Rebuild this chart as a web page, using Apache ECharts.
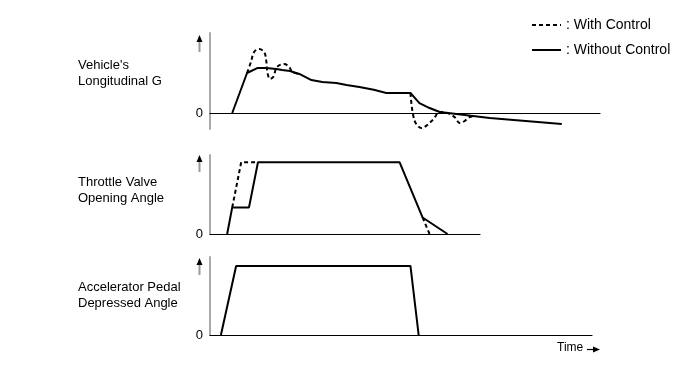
<!DOCTYPE html>
<html>
<head>
<meta charset="utf-8">
<script src="https://cdn.jsdelivr.net/npm/echarts@6/dist/echarts.min.js"></script>
<style>
html,body{margin:0;padding:0;background:#fff;}
#c{width:691px;height:370px;}
</style>
</head>
<body>
<div id="c"></div>
<script>
// Panel titles (left labels)
var panelLabels = [["Vehicle's", "Longitudinal G"], ["Throttle Valve", "Opening Angle"], ["Accelerator Pedal", "Depressed Angle"]];
var legendNames = ["With Control", "Without Control"];
var zeroTick = "0";
var timeLabel = "Time";

// Panel 1: vehicle's longitudinal G  [time, value]
var gWithout = [[5.7,0],[9.5,2.5],[12.1,2.81],[14.4,2.81],[17.0,2.75],[18.5,2.69],[20.5,2.62],[22.9,2.44],[26.0,2.06],[28.8,1.94],[32.4,1.88],[35.0,1.75],[38.3,1.62],[42.0,1.45],[45.2,1.25],[51.4,1.25],[53.7,0.62],[56.3,0.31],[58.9,0.06],[63.2,-0.06],[71.7,-0.31],[90.2,-0.69]];
var gWith = [[9.5,2.5],[10.5,3.19],[11.3,3.81],[12.6,4.0],[13.9,3.81],[14.4,3.31],[14.7,2.56],[15.4,2.13],[16.2,2.25],[17.2,2.88],[19.0,3.06],[20.3,2.88],[21.1,2.56],[22.9,2.44],null,
             [51.4,1.25],[52.4,-0.44],[54.2,-0.94],[57.1,-0.44],[58.9,0.06],[60.9,0.0],[62.7,-0.25],[64.0,-0.62],[65.3,-0.5],[66.6,-0.25],[68.0,-0.22]];
// Panel 2: throttle valve opening angle
var thWithout = [[4.4,0],[5.7,0.37],[10.0,0.37],[12.3,1],[48.6,1],[54.5,0.23],[60.9,0]];
var thWith = [[5.7,0.37],[8.0,1],[12.3,1],null,[54.5,0.23],[56.3,0]];
// Panel 3: accelerator pedal depressed angle
var accWithout = [[2.8,0],[6.7,1],[51.4,1],[53.5,0]];

var GL = 210, PX = 3.9; // grid left and px per time unit
var font = '"Liberation Sans", Arial, sans-serif';

function yAxisCfg(idx, min, max, interval) {
  return {
    type: 'value', gridIndex: idx, min: min, max: max, interval: interval,
    axisLine: {show: true, onZero: false, lineStyle: {color: '#aaa', width: 2}},
    axisTick: {show: false}, splitLine: {show: false},
    axisLabel: {show: true, margin: 7, color: '#000', fontSize: 13, fontFamily: font,
      formatter: function (v) { return v === 0 ? zeroTick : ''; }}
  };
}
function xAxisCfg(idx, max) {
  return {
    type: 'value', gridIndex: idx, min: 0, max: max,
    axisLine: {show: true, onZero: true, lineStyle: {color: '#000', width: 1.2}},
    axisTick: {show: false}, axisLabel: {show: false}, splitLine: {show: false}
  };
}
function lineSeries(name, xi, data, dashed, smooth) {
  return {
    name: name, type: 'line', xAxisIndex: xi, yAxisIndex: xi, data: data,
    showSymbol: false, symbol: 'none', smooth: smooth, connectNulls: false,
    lineStyle: {color: '#000', width: 2, type: dashed ? [4, 3] : 'solid'},
    itemStyle: {color: '#000'}, animation: false, z: dashed ? 3 : 2
  };
}
function arrowUp(top) {
  return {type: 'group', children: [
    {type: 'line', shape: {x1: 199.5, y1: top + 6, x2: 199.5, y2: top + 17}, style: {stroke: '#999', lineWidth: 2}},
    {type: 'polygon', shape: {points: [[199.5, top], [196.5, top + 7], [202.5, top + 7]]}, style: {fill: '#000'}}
  ]};
}

var graphics = [arrowUp(35), arrowUp(155), arrowUp(258)];
var labelY = [[67, 83], [184, 200], [289, 305]];
panelLabels.forEach(function (lines, i) {
  lines.forEach(function (t, j) {
    graphics.push({type: 'text', left: 78, top: labelY[i][j] - 8,
      style: {text: t, fill: '#000', font: '13px ' + font}});
  });
});
graphics.push({type: 'text', left: 557, top: 342, style: {text: timeLabel, fill: '#000', font: '12px ' + font}});
graphics.push({type: 'group', children: [
  {type: 'line', shape: {x1: 587, y1: 349.5, x2: 595, y2: 349.5}, style: {stroke: '#000', lineWidth: 1.2}},
  {type: 'polygon', shape: {points: [[600, 349.5], [593, 346.5], [593, 352.5]]}, style: {fill: '#000'}}
]});

var chart = echarts.init(document.getElementById('c'));
chart.setOption({
  animation: false,
  backgroundColor: '#fff',
  grid: [
    {left: GL, width: 390, top: 33, height: 96},
    {left: GL, width: 270, top: 155, height: 79},
    {left: GL, width: 382, top: 257, height: 78}
  ],
  xAxis: [xAxisCfg(0, 390 / PX), xAxisCfg(1, 270 / PX), xAxisCfg(2, 382 / PX)],
  yAxis: [yAxisCfg(0, -1, 5, 1), yAxisCfg(1, 0, 1.1, 1), yAxisCfg(2, 0, 1.13, 1)],
  legend: {
    show: true, orient: 'vertical', left: 526, top: 13, itemWidth: 29, itemHeight: 14, itemGap: 11,
    data: legendNames,
    itemStyle: {opacity: 0},
    textStyle: {color: '#000', fontSize: 14, fontFamily: font},
    formatter: function (n) { return ': ' + n; },
    selectedMode: false
  },
  series: [
    lineSeries(legendNames[1], 0, gWithout, false, false),
    lineSeries(legendNames[0], 0, gWith, true, 0.35),
    lineSeries(legendNames[1], 1, thWithout, false, false),
    lineSeries(legendNames[0], 1, thWith, true, false),
    lineSeries(legendNames[1], 2, accWithout, false, false)
  ],
  graphic: graphics
});
</script>
</body>
</html>
